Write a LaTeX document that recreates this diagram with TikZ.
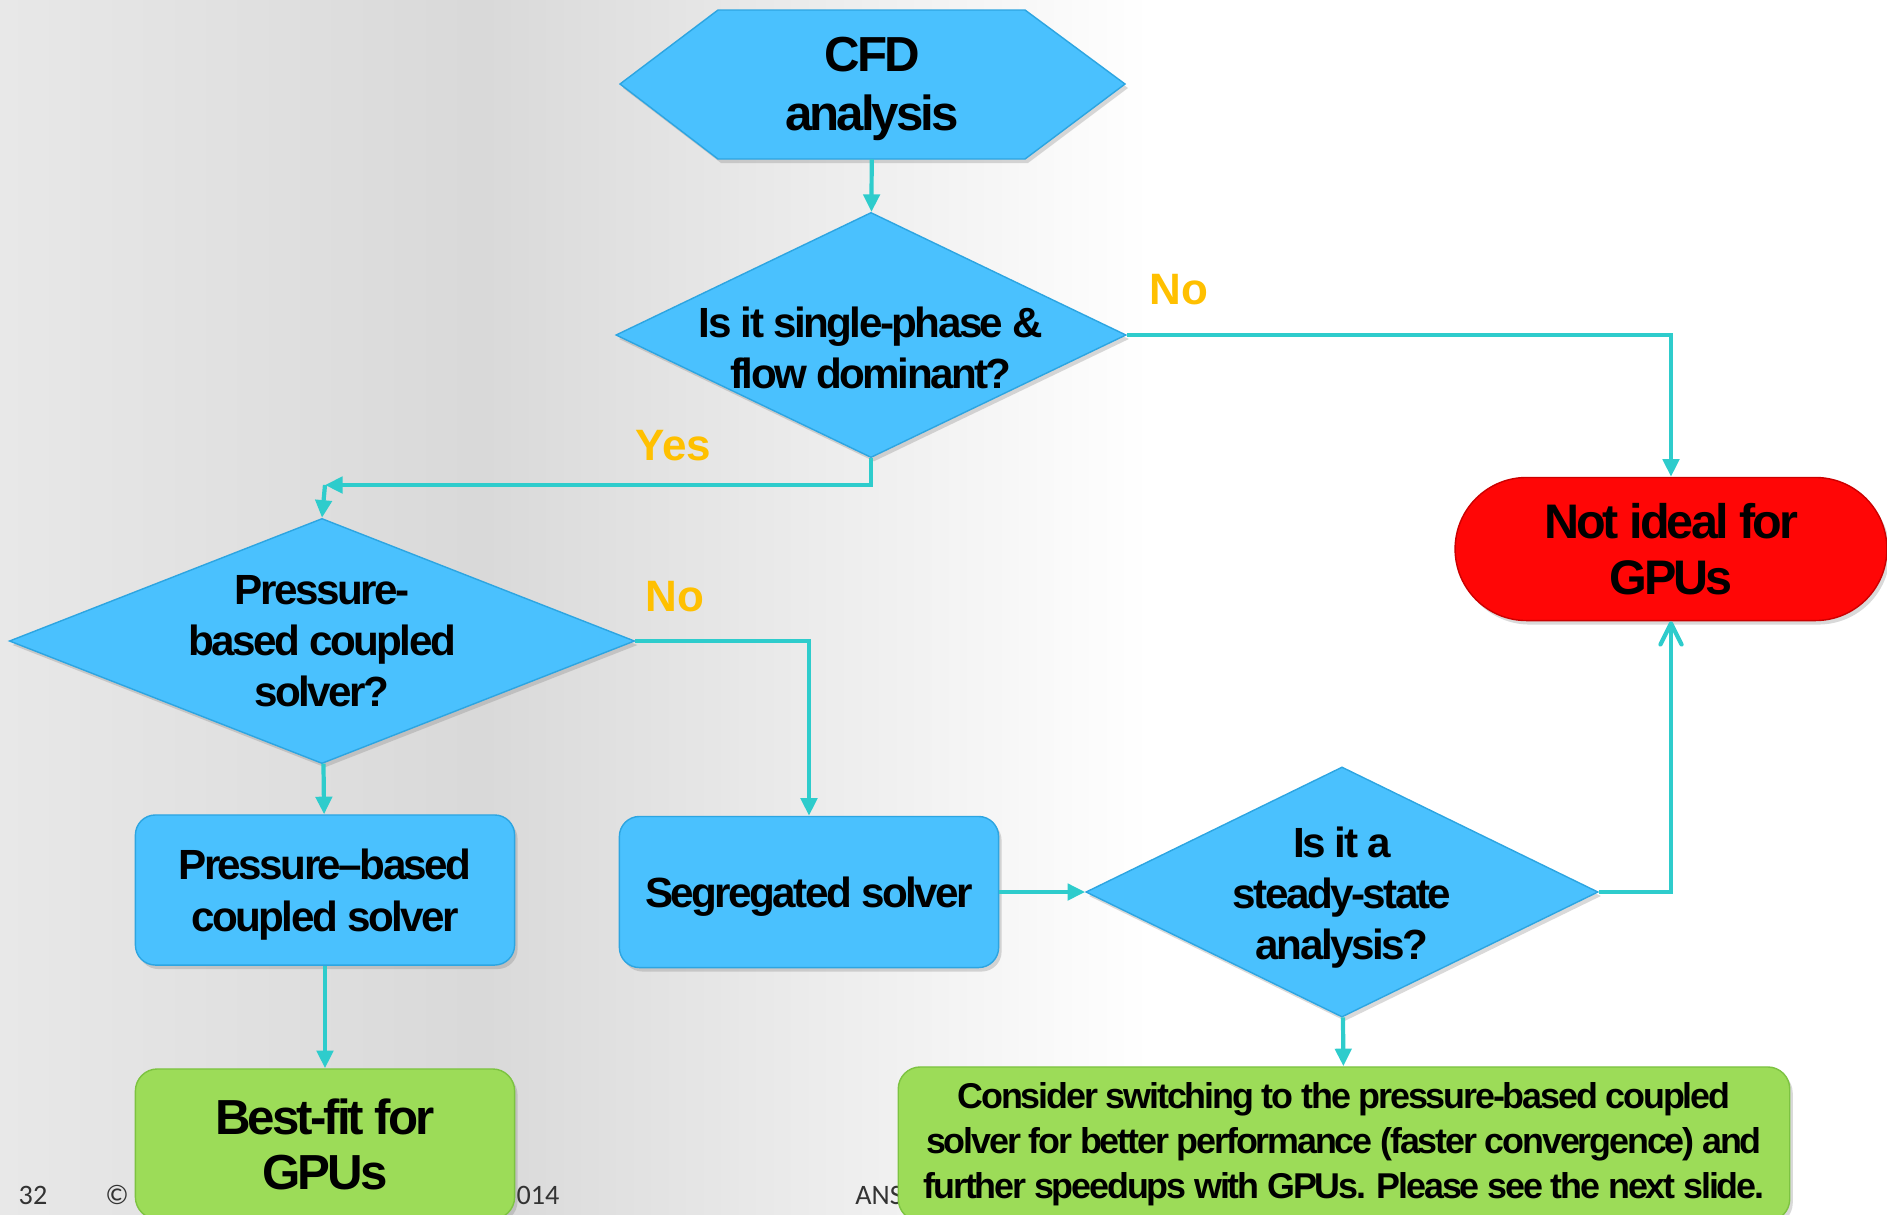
\documentclass[tikz,border=0pt]{standalone}
\usepackage{fontspec}
\setmainfont{Liberation Sans}
\newfontfamily\tightfont{Liberation Sans}[LetterSpace=-6]
\newfontfamily\footfont{Carlito}
\usetikzlibrary{shapes.geometric,shapes.misc,arrows.meta,shadows}
\definecolor{boxblue}{RGB}{74,193,254}
\definecolor{edgeblue}{RGB}{45,165,225}
\definecolor{flowline}{RGB}{46,204,204}
\definecolor{okgreen}{RGB}{156,220,88}
\definecolor{edgegreen}{RGB}{125,195,65}
\definecolor{stopred}{RGB}{255,6,6}
\definecolor{answer}{RGB}{255,192,0}

\begin{document}
\begin{tikzpicture}[x=0.01cm,y=-0.01cm,
  shade box/.style={drop shadow={shadow xshift=0.03cm,shadow yshift=-0.04cm,opacity=0.3}},
  decision/.style={diamond,shade box,fill=boxblue,draw=edgeblue,line width=0.4pt,align=center,
    inner xsep=-12pt,inner ysep=0pt,font=\tightfont\bfseries\fontsize{12}{14.5}\selectfont},
  process/.style={rectangle,rounded corners=0.2cm,shade box,fill=boxblue,draw=edgeblue,line width=0.4pt,
    align=center,minimum width=3.79cm,minimum height=1.5cm,text depth=0pt,font=\tightfont\bfseries\fontsize{12}{14.7}\selectfont},
  result/.style={rectangle,rounded corners=0.22cm,shade box,fill=okgreen,draw=edgegreen,line width=0.4pt,align=center},
  flow/.style={draw=flowline,line width=1.2pt,-{Triangle[length=5pt,width=4.6pt]}},
  answerlabel/.style={text=answer,font=\bfseries\fontsize{12.5}{14}\selectfont},
  footnote/.style={font=\footfont\fontsize{8}{9}\selectfont,text=black!80}]
\useasboundingbox (0,0) rectangle (1887,1214);
% background
\shade[left color=black!9,right color=black!15] (0,0) rectangle (480,1214);
\shade[left color=black!15,right color=white] (480,0) rectangle (1150,1214);
% footer (partly under the boxes)
\node[footnote] (pagenum) at (33,1195) {32};
\node[footnote] (copysign) at (117,1195) {©};
\node[footnote] (year) at (538,1195) {014};
\node[footnote] (company) at (879,1195) {ANS};

% hexagon behind the start node
\filldraw[shade box,fill=boxblue,draw=edgeblue,line width=0.4pt] (620,84) -- (718,10) -- (1025,10) -- (1125,84) -- (1025,159) -- (718,159) -- cycle;
\node[minimum width=5.05cm,minimum height=1.49cm,align=center,text depth=0pt,
  font=\tightfont\bfseries\fontsize{14}{16.8}\selectfont] (cfd) at (872,84) {CFD\\analysis};
\node[decision,aspect=2.08,minimum width=5.1cm,minimum height=2.45cm] (phase) at (871,335) {};
\node[align=center,font=\tightfont\bfseries\fontsize{12}{14.5}\selectfont] (phasetext) at (871,348)
  {Is it single-phase \&\\flow dominant?};
\node[rounded rectangle,shade box,fill=stopred,draw=red!80!black,line width=0.4pt,minimum width=4.55cm,
  minimum height=1.43cm,align=center,font=\tightfont\bfseries\fontsize{13.8}{16.1}\selectfont] (notgpu) at (1671,549)
  {Not ideal for\\GPUs};
\node[decision,aspect=2.55,minimum width=6.25cm,minimum height=2.45cm] (coupled) at (322,641)
  {Pressure-\\based coupled\\solver?};
\node[process] (pbcs) at (325,890) {Pressure–based\\coupled solver};
\node[process,minimum height=1.51cm] (segr) at (809,892) {Segregated solver};
\node[decision,aspect=2.05,minimum width=5.12cm,minimum height=2.5cm] (steady) at (1342,892)
  {\\[-0.1cm]Is it a\\steady-state\\analysis?};
\node[result,minimum width=3.79cm,minimum height=1.5cm,font=\tightfont\bfseries\fontsize{14}{15.7}\selectfont]
  (bestfit) at (325,1144) {Best-fit for\\GPUs};
\node[result,minimum width=8.91cm,minimum height=1.54cm,font=\tightfont\bfseries\fontsize{10.2}{12.8}\selectfont]
  (consider) at (1344,1144) {Consider switching to the pressure-based coupled\\solver for better performance (faster convergence) and\\further speedups with GPUs. Please see the next slide.};

\coordinate (yesturn) at (325,485);
\draw[flow] (cfd) -- (phase);
\draw[flow] (phase.east) -| (notgpu.north);
\draw[flow] (phase.south) |- (yesturn);
\draw[flow] (yesturn) -- (coupled.north);
\draw[flow] (coupled.east) -| (segr.north);
\draw[flow] (coupled) -- (pbcs);
\draw[flow] (pbcs) -- (bestfit);
\draw[flow] (segr) -- (steady);
\draw[flow,-{Straight Barb[length=6pt,width=6pt,round]}] (steady.east) -| (notgpu.south);
\draw[flow] (steady) -- (consider);

\node[answerlabel] (noone) at (1179,290) {No};
\node[answerlabel] (yes) at (673,446) {Yes};
\node[answerlabel] (notwo) at (675,597) {No};
\end{tikzpicture}
\end{document}
